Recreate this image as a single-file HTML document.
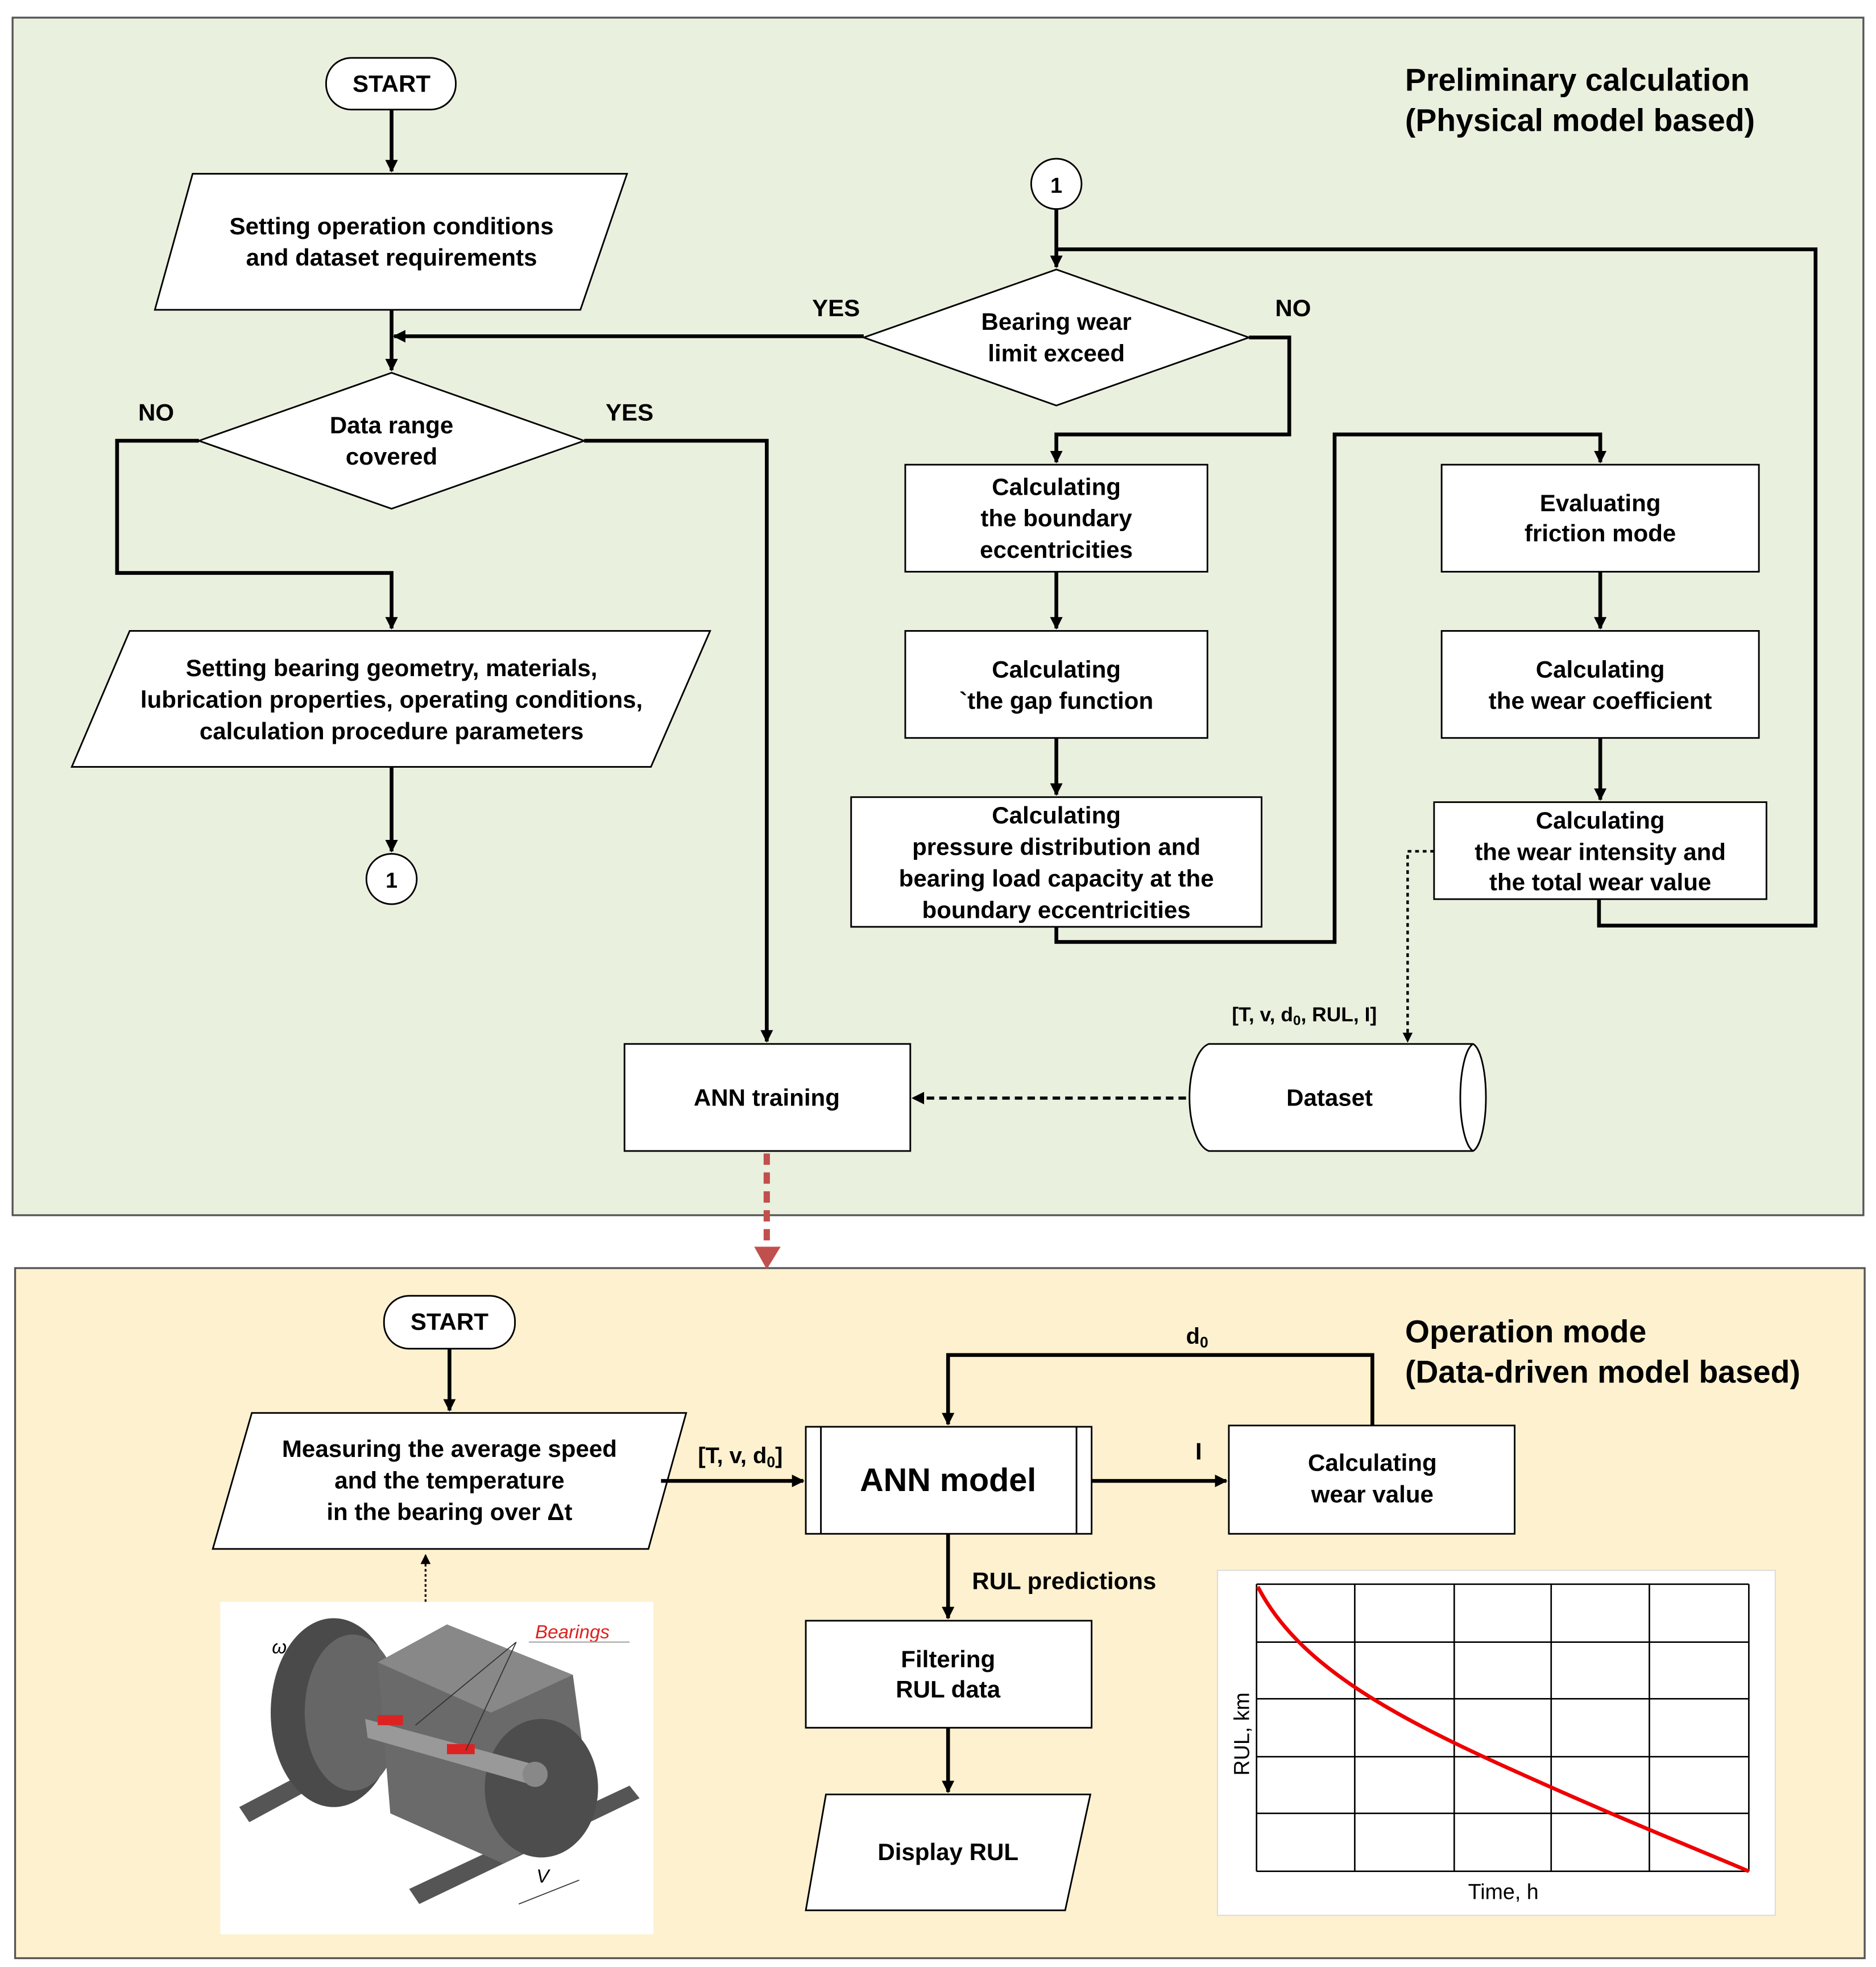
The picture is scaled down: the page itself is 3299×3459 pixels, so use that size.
<!DOCTYPE html>
<html><head><meta charset="utf-8"><style>
html,body{margin:0;padding:0;background:#fff;}
svg{display:block;}
text{font-family:"Liberation Sans",Arial,sans-serif;font-weight:bold;fill:#000;}
</style></head><body>
<svg width="3299" height="3459" viewBox="0 0 1490 1562" preserveAspectRatio="none" xmlns="http://www.w3.org/2000/svg">
<defs>
<marker id="ah" markerWidth="10" markerHeight="10" refX="9" refY="5" orient="auto" markerUnits="userSpaceOnUse"><path d="M0,0 L10,5 L0,10 z" fill="#000"/></marker>
<marker id="ahs" markerWidth="8" markerHeight="8" refX="7" refY="4" orient="auto" markerUnits="userSpaceOnUse"><path d="M0,0 L8,4 L0,8 z" fill="#000"/></marker>
</defs>
<rect x="0" y="0" width="1490" height="1562" fill="#fff"/>
<rect x="10" y="14" width="1470" height="951" fill="#EAF0DE" stroke="#555" stroke-width="1.5"/>
<rect x="12" y="1007" width="1469" height="548" fill="#FEF1CF" stroke="#555" stroke-width="1.5"/>

<g font-size="25">
<text x="1116" y="72">Preliminary calculation</text>
<text x="1116" y="104">(Physical model based)</text>
<text x="1116" y="1066">Operation mode</text>
<text x="1116" y="1098">(Data-driven model based)</text>
</g>

<g fill="#fff" stroke="#000" stroke-width="1.3">
<rect x="259" y="46" width="103" height="41" rx="20"/>
<polygon points="153,138 498,138 461,246 123,246"/>
<polygon points="311,296 464,350 311,404 158,350"/>
<polygon points="103,501 564,501 517,609 57,609"/>
<circle cx="311" cy="698" r="20"/>
<circle cx="839" cy="146" r="20"/>
<polygon points="839,214 992,268 839,322 686,268"/>
<rect x="719" y="369" width="240" height="85"/>
<rect x="719" y="501" width="240" height="85"/>
<rect x="676" y="633" width="326" height="103"/>
<rect x="1145" y="369" width="252" height="85"/>
<rect x="1145" y="501" width="252" height="85"/>
<rect x="1139" y="637" width="264" height="77"/>
<rect x="496" y="829" width="227" height="85"/>
<path d="M960,829 L1170,829 A12,43 0 0 1 1170,914 L960,914 A18,43 0 0 1 960,829 z"/>
<path d="M1170,829 A12,43 0 0 0 1170,914" fill="none"/>
<rect x="305" y="1029" width="104" height="42" rx="20"/>
<polygon points="200,1122 545,1122 515,1230 169,1230"/>
<rect x="640" y="1133" width="227" height="85"/>
<rect x="976" y="1132" width="227" height="86"/>
<rect x="640" y="1287" width="227" height="85"/>
<polygon points="656,1425 866,1425 846,1517 640,1517"/>
</g>
<line x1="652" y1="1133" x2="652" y2="1218" stroke="#000" stroke-width="1.3"/>
<line x1="855" y1="1133" x2="855" y2="1218" stroke="#000" stroke-width="1.3"/>

<g fill="none" stroke="#000" stroke-width="3">
<path d="M311,87 V136" marker-end="url(#ah)"/>
<path d="M311,246 V294" marker-end="url(#ah)"/>
<path d="M686,267 H313" marker-end="url(#ah)"/>
<path d="M158,350 H93 V455 H311 V499" marker-end="url(#ah)"/>
<path d="M311,609 V676" marker-end="url(#ah)"/>
<path d="M464,350 H609 V827" marker-end="url(#ah)"/>
<path d="M839,166 V212" marker-end="url(#ah)"/>
<path d="M1270,714 V735 H1442 V198 H839"/>
<path d="M992,268 H1024 V345 H839 V367" marker-end="url(#ah)"/>
<path d="M839,454 V499" marker-end="url(#ah)"/>
<path d="M839,586 V631" marker-end="url(#ah)"/>
<path d="M839,736 V748 H1060 V345 H1271 V367" marker-end="url(#ah)"/>
<path d="M1271,454 V499" marker-end="url(#ah)"/>
<path d="M1271,586 V635" marker-end="url(#ah)"/>
<path d="M357,1071 V1120" marker-end="url(#ah)"/>
<path d="M525,1176 H638" marker-end="url(#ah)"/>
<path d="M867,1176 H974" marker-end="url(#ah)"/>
<path d="M1090,1132 V1076 H753 V1131" marker-end="url(#ah)"/>
<path d="M753,1218 V1285" marker-end="url(#ah)"/>
<path d="M753,1372 V1423" marker-end="url(#ah)"/>
</g>
<path d="M1139,676 H1118 V827" fill="none" stroke="#000" stroke-width="2" stroke-dasharray="3,3" marker-end="url(#ahs)"/>
<path d="M942,872 H725" fill="none" stroke="#000" stroke-width="2.5" stroke-dasharray="6,4" marker-end="url(#ah)"/>
<path d="M338,1272 V1235" fill="none" stroke="#000" stroke-width="1.5" stroke-dasharray="2,2" marker-end="url(#ahs)"/>
<path d="M609,916 V990" fill="none" stroke="#C0504D" stroke-width="5" stroke-dasharray="9,6"/>
<polygon points="599,990 620,990 609,1008" fill="#C0504D"/>

<g font-size="19" text-anchor="middle">
<text x="311" y="73">START</text>
<text x="311" y="186">Setting operation conditions</text>
<text x="311" y="211">and dataset requirements</text>
<text x="311" y="344">Data range</text>
<text x="311" y="369">covered</text>
<text x="311" y="537">Setting bearing geometry, materials,</text>
<text x="311" y="562">lubrication properties, operating conditions,</text>
<text x="311" y="587">calculation procedure parameters</text>
<text x="311" y="705" font-size="17">1</text>
<text x="839" y="153" font-size="17">1</text>
<text x="839" y="262">Bearing wear</text>
<text x="839" y="287">limit exceed</text>
<text x="839" y="393">Calculating</text>
<text x="839" y="418">the boundary</text>
<text x="839" y="443">eccentricities</text>
<text x="839" y="538">Calculating</text>
<text x="839" y="563">`the gap function</text>
<text x="839" y="654">Calculating</text>
<text x="839" y="679">pressure distribution and</text>
<text x="839" y="704">bearing load capacity at the</text>
<text x="839" y="729">boundary eccentricities</text>
<text x="1271" y="406">Evaluating</text>
<text x="1271" y="430">friction mode</text>
<text x="1271" y="538">Calculating</text>
<text x="1271" y="563">the wear coefficient</text>
<text x="1271" y="658">Calculating</text>
<text x="1271" y="683">the wear intensity and</text>
<text x="1271" y="707">the total wear value</text>
<text x="609" y="878">ANN training</text>
<text x="1056" y="878">Dataset</text>
<text x="124" y="334">NO</text>
<text x="500" y="334">YES</text>
<text x="664" y="251">YES</text>
<text x="1027" y="251">NO</text>
<text x="357" y="1056">START</text>
<text x="357" y="1157">Measuring the average speed</text>
<text x="357" y="1182">and the temperature</text>
<text x="357" y="1207">in the bearing over Δt</text>
<text x="753" y="1184" font-size="26">ANN model</text>
<text x="1090" y="1168">Calculating</text>
<text x="1090" y="1193">wear value</text>
<text x="753" y="1324">Filtering</text>
<text x="753" y="1348">RUL data</text>
<text x="753" y="1477">Display RUL</text>
<text x="952" y="1159">I</text>
</g>
<text x="1036" y="811" font-size="16" text-anchor="middle">[T, v, d<tspan font-size="11" dy="3">0</tspan><tspan dy="-3">, RUL, I]</tspan></text>
<text x="588" y="1162" font-size="18" text-anchor="middle">[T, v, d<tspan font-size="12" dy="3">0</tspan><tspan dy="-3">]</tspan></text>
<text x="942" y="1067" font-size="18">d<tspan font-size="12" dy="3">0</tspan></text>
<text x="772" y="1262" font-size="19">RUL predictions</text>

<rect x="175" y="1272" width="344" height="264" fill="#fff"/>
<g stroke="none">
<polygon points="190,1435 310,1372 318,1382 198,1447" fill="#555"/>
<polygon points="325,1500 500,1418 508,1428 333,1512" fill="#555"/>
<ellipse cx="265" cy="1360" rx="50" ry="75" fill="#4a4a4a"/>
<ellipse cx="280" cy="1360" rx="38" ry="62" fill="#666"/>
<polygon points="300,1320 355,1290 455,1330 470,1440 400,1480 310,1440" fill="#6a6a6a"/>
<polygon points="300,1320 355,1290 455,1330 390,1360" fill="#888"/>
<ellipse cx="430" cy="1420" rx="45" ry="55" fill="#4d4d4d"/>
<polygon points="290,1365 420,1400 425,1418 292,1380" fill="#999"/>
<circle cx="425" cy="1409" r="10" fill="#888"/>
<rect x="300" y="1362" width="20" height="8" fill="#d22"/>
<rect x="355" y="1385" width="22" height="8" fill="#d22"/>
</g>
<text x="425" y="1301" font-size="15" style="font-style:italic;font-weight:normal;fill:#e02020">Bearings</text>
<line x1="420" y1="1304" x2="500" y2="1304" stroke="#aaa"/>
<line x1="410" y1="1304" x2="330" y2="1370" stroke="#333" stroke-width="0.8"/>
<line x1="410" y1="1304" x2="370" y2="1390" stroke="#333" stroke-width="0.8"/>
<text x="216" y="1313" font-size="15" style="font-style:italic;font-weight:normal">ω</text>
<text x="426" y="1495" font-size="15" style="font-style:italic;font-weight:normal">V</text>
<line x1="460" y1="1493" x2="412" y2="1512" stroke="#333" stroke-width="0.8"/>

<rect x="967" y="1247" width="443" height="274" fill="#fff" stroke="#ddd"/>
<g stroke="#000" stroke-width="1.2">
<line x1="998" y1="1258" x2="998" y2="1486"/><line x1="1076" y1="1258" x2="1076" y2="1486"/>
<line x1="1155" y1="1258" x2="1155" y2="1486"/><line x1="1232" y1="1258" x2="1232" y2="1486"/>
<line x1="1310" y1="1258" x2="1310" y2="1486"/><line x1="1389" y1="1258" x2="1389" y2="1486"/>
<line x1="998" y1="1258" x2="1389" y2="1258"/><line x1="998" y1="1304" x2="1389" y2="1304"/>
<line x1="998" y1="1349" x2="1389" y2="1349"/><line x1="998" y1="1395" x2="1389" y2="1395"/>
<line x1="998" y1="1440" x2="1389" y2="1440"/><line x1="998" y1="1486" x2="1389" y2="1486"/>
</g>
<path d="M999,1260 C1030,1320 1100,1360 1200,1405 S1340,1465 1389,1486" fill="none" stroke="#e00" stroke-width="3"/>
<text x="1194" y="1508" font-size="17" text-anchor="middle" style="font-weight:normal">Time, h</text>
<text x="0" y="0" font-size="17" text-anchor="middle" style="font-weight:normal" transform="translate(992,1377) rotate(-90)">RUL, km</text>
</svg>
</body></html>
